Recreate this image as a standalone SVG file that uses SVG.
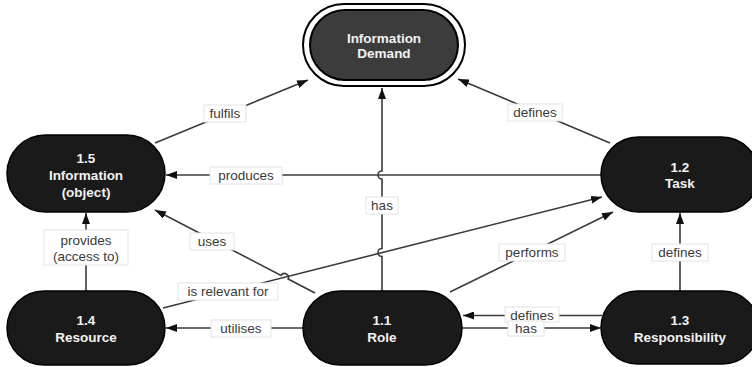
<svg xmlns="http://www.w3.org/2000/svg" width="752" height="367" viewBox="0 0 752 367">
  <style>
    .node { fill: #1a1a1a; stroke: #000; stroke-width: 1.5; }
    .ntext { font-family: "Liberation Sans", Arial, sans-serif; font-size: 13.5px; font-weight: bold; fill: #f2f2f2; text-anchor: middle; }
    .edge { fill: none; stroke: #3a3a3a; stroke-width: 1.6; }
    .lbox { fill: #fff; stroke: #e2e2e2; stroke-width: 1; }
    .ltext { font-family: "Liberation Sans", Arial, sans-serif; font-size: 13.5px; fill: #3a3a3a; text-anchor: middle; }
  </style>
  <defs>
    <marker id="arrow" markerUnits="userSpaceOnUse" markerWidth="11" markerHeight="8" refX="11" refY="4" orient="auto">
      <path d="M0,0 L11,4 L0,8 z" fill="#111"/>
    </marker>
  </defs>
  <rect width="752" height="367" fill="#fff"/>

  <!-- connectors -->
  <g id="connectors">
    <!-- 1.5 fulfils Information Demand -->
    <path class="edge" d="M155,143 L308,80" marker-end="url(#arrow)"/>
    <!-- Task defines Information Demand -->
    <path class="edge" d="M610,143 L458,79" marker-end="url(#arrow)"/>
    <!-- Task produces Information -->
    <path class="edge" d="M601,175 L166,175" marker-end="url(#arrow)"/>
    <!-- Role has Information Demand (with line hops) -->
    <path class="edge" d="M382,291 V256.5 A4,4 0 0 1 382,248.5 V179 A4,4 0 0 1 382,171 V88" marker-end="url(#arrow)"/>
    <!-- Role uses Information (with line hop) -->
    <path class="edge" d="M315,293 L288.2,279 A4,4 0 0 0 281.1,275.4 L155,210" marker-end="url(#arrow)"/>
    <!-- Resource is relevant for Task -->
    <path class="edge" d="M163,308 L602,197" marker-end="url(#arrow)"/>
    <!-- Role performs Task -->
    <path class="edge" d="M450,292 L613,212" marker-end="url(#arrow)"/>
    <!-- Responsibility defines Task -->
    <path class="edge" d="M680,291 V213" marker-end="url(#arrow)"/>
    <!-- Resource provides access to Information -->
    <path class="edge" d="M86,291 V213" marker-end="url(#arrow)"/>
    <!-- Role utilises Resource -->
    <path class="edge" d="M303,328 H166" marker-end="url(#arrow)"/>
    <!-- Responsibility defines Role -->
    <path class="edge" d="M602,315.5 H463" marker-end="url(#arrow)"/>
    <!-- Role has Responsibility -->
    <path class="edge" d="M462,328 H601" marker-end="url(#arrow)"/>

    <!-- labels -->
    <rect class="lbox" x="204" y="105" width="42" height="17"/>
    <text class="ltext" x="225" y="118">fulfils</text>
    <rect class="lbox" x="508" y="104" width="54" height="17"/>
    <text class="ltext" x="535" y="117">defines</text>
    <rect class="lbox" x="210" y="167" width="72" height="17"/>
    <text class="ltext" x="246" y="180">produces</text>
    <rect class="lbox" x="366" y="197" width="32" height="17"/>
    <text class="ltext" x="382" y="210">has</text>
    <rect class="lbox" x="190" y="233" width="44" height="17"/>
    <text class="ltext" x="212" y="246">uses</text>
    <rect class="lbox" x="44" y="230" width="84" height="35"/>
    <text class="ltext" x="86" y="244.5">provides</text>
    <text class="ltext" x="86" y="261">(access to)</text>
    <rect class="lbox" x="178" y="283" width="100" height="17"/>
    <text class="ltext" x="228" y="296">is relevant for</text>
    <rect class="lbox" x="499" y="244" width="66" height="17"/>
    <text class="ltext" x="532" y="257">performs</text>
    <rect class="lbox" x="652" y="244" width="56" height="17"/>
    <text class="ltext" x="680" y="257">defines</text>
    <rect class="lbox" x="211" y="320" width="60" height="17"/>
    <text class="ltext" x="241" y="333">utilises</text>
    <rect class="lbox" x="505" y="307" width="54" height="15"/>
    <text class="ltext" x="532" y="319.5">defines</text>
    <rect class="lbox" x="508" y="321" width="36" height="15"/>
    <text class="ltext" x="526" y="333">has</text>
  </g>

  <!-- nodes -->
  <g id="information-demand">
    <rect x="303" y="4" width="162" height="82" rx="41" fill="#fff" stroke="#000" stroke-width="2"/>
    <rect x="310" y="10" width="148" height="70" rx="35" fill="#3c3c3c" stroke="#000" stroke-width="2"/>
    <text class="ntext" x="384" y="43">Information</text>
    <text class="ntext" x="384" y="58">Demand</text>
  </g>
  <g id="information-object">
    <rect class="node" x="7" y="135" width="158" height="77" rx="38.5"/>
    <text class="ntext" x="86" y="162.5">1.5</text>
    <text class="ntext" x="86" y="179.5">Information</text>
    <text class="ntext" x="86" y="196.5">(object)</text>
  </g>
  <g id="task">
    <rect class="node" x="601" y="137" width="158" height="75" rx="37.5"/>
    <text class="ntext" x="680" y="171.5">1.2</text>
    <text class="ntext" x="680" y="188">Task</text>
  </g>
  <g id="resource">
    <rect class="node" x="7" y="291" width="158" height="74" rx="37"/>
    <text class="ntext" x="86" y="324.5">1.4</text>
    <text class="ntext" x="86" y="341.5">Resource</text>
  </g>
  <g id="role">
    <rect class="node" x="303" y="291" width="159" height="74" rx="37"/>
    <text class="ntext" x="382" y="324.5">1.1</text>
    <text class="ntext" x="382" y="341.5">Role</text>
  </g>
  <g id="responsibility">
    <rect class="node" x="601" y="291" width="158" height="73" rx="36.5"/>
    <text class="ntext" x="680" y="324.5">1.3</text>
    <text class="ntext" x="680" y="341.5">Responsibility</text>
  </g>
</svg>
